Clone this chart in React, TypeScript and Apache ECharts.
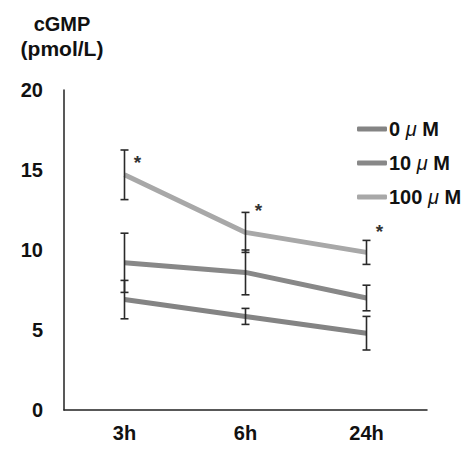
import React, { useEffect, useRef } from "react";
import * as echarts from "echarts";

const categories = ["3h", "6h", "24h"];
const doses = ["0", "10", "100"];
const seriesNames = doses.map((d) => d + " \u03bc M");
const mean0 = [6.9, 5.85, 4.8];
const err0 = [1.2, 0.5, 1.05];
const mean10 = [9.2, 8.6, 7.0];
const err10 = [1.85, 1.4, 0.8];
const mean100 = [14.7, 11.1, 9.85];
const err100 = [1.55, 1.25, 0.75];
const star100Y = [15.75, 12.75, 11.4];
const yTicks = [0, 5, 10, 15, 20];
const colors = ["#848484", "#888888", "#a8a8a8"];

const FONT = "'Liberation Sans', Arial, sans-serif";

function errData(mean: number[], err: number[], starY?: number[]) {
  return mean.map((m, i) => [i, m - err[i], m + err[i], starY ? starY[i] : -1]);
}

function renderErr(params: any, api: any) {
  const idx = api.value(0);
  const lo = api.coord([idx, api.value(1)]);
  const hi = api.coord([idx, api.value(2)]);
  const cap = 4;
  const st = { stroke: "#2a2a2a", lineWidth: 1.6 };
  const children: any[] = [
    { type: "line", shape: { x1: hi[0], y1: hi[1], x2: lo[0], y2: lo[1] }, style: st },
    { type: "line", shape: { x1: hi[0] - cap, y1: hi[1], x2: hi[0] + cap, y2: hi[1] }, style: st },
    { type: "line", shape: { x1: lo[0] - cap, y1: lo[1], x2: lo[0] + cap, y2: lo[1] }, style: st },
  ];
  const sy = api.value(3);
  if (sy >= 0) {
    const sp = api.coord([idx, sy]);
    children.push({
      type: "text",
      x: sp[0] + 13,
      y: sp[1] + 4,
      style: { text: "*", fontSize: 19, fontWeight: "bold", fill: "#333", align: "center", verticalAlign: "middle", fontFamily: FONT },
    });
  }
  return { type: "group", children };
}

export default function App() {
  const ref = useRef<HTMLDivElement>(null);
  useEffect(() => {
    if (!ref.current) return;
    const chart = echarts.init(ref.current, null, { renderer: "svg" });
    const means = [mean0, mean10, mean100];
    const errs = [err0, err10, err100];
    const lineSeries = means.map((m, i) => ({
      name: seriesNames[i],
      type: "line",
      data: m,
      showSymbol: false,
      symbol: "none",
      lineStyle: { color: colors[i], width: 5 },
      itemStyle: { color: colors[i] },
      z: 2,
    }));
    const errSeries = means.map((m, i) => ({
      type: "custom",
      data: errData(m, errs[i], i === 2 ? star100Y : undefined),
      renderItem: renderErr,
      z: 3,
      silent: true,
    }));
    const txt = { fontWeight: "bold", fill: "#111", fontFamily: FONT, fontSize: 20, align: "center", verticalAlign: "middle" };
    chart.setOption({
      animation: false,
      textStyle: { fontFamily: FONT },
      grid: { left: 64, right: 48, top: 90, bottom: 48 },
      graphic: [
        { type: "text", x: 62, y: 24, style: { ...txt, text: "cGMP" } },
        { type: "text", x: 62, y: 48, style: { ...txt, text: "(pmol/L)", fontSize: 21 } },
      ],
      legend: {
        orient: "vertical",
        left: 357,
        top: 119,
        padding: 0,
        itemGap: 14,
        itemWidth: 30,
        itemHeight: 5,
        icon: "roundRect",
        data: seriesNames,
        formatter: (name: string) => {
          const parts = name.split("\u03bc");
          return "{n|" + parts[0] + "}{i|\u03bc}{n|" + parts[1] + "}";
        },
        textStyle: {
          fontSize: 20,
          lineHeight: 20,
          fontWeight: "bold",
          color: "#111",
          fontFamily: FONT,
          padding: [0, 0, 0, -3],
          rich: {
            n: { fontSize: 20, lineHeight: 20, fontWeight: "bold", color: "#111", fontFamily: FONT },
            i: { fontSize: 20, lineHeight: 20, fontStyle: "italic", fontWeight: "normal", color: "#111", fontFamily: FONT },
          },
        },
      },
      xAxis: {
        type: "category",
        data: categories,
        boundaryGap: true,
        axisLine: { lineStyle: { color: "#222", width: 1.5 } },
        axisTick: { show: false },
        axisLabel: { fontSize: 20, fontWeight: "bold", color: "#111", margin: 13, fontFamily: FONT },
      },
      yAxis: {
        type: "value",
        min: yTicks[0],
        max: yTicks[yTicks.length - 1],
        interval: 5,
        splitLine: { show: false },
        axisLine: { show: true, lineStyle: { color: "#222", width: 1.5 } },
        axisTick: { show: false },
        axisLabel: { fontSize: 20, fontWeight: "bold", color: "#111", margin: 21, fontFamily: FONT },
      },
      series: [...lineSeries, ...errSeries],
    });
    return () => chart.dispose();
  }, []);
  return <div ref={ref} style={{ width: 475, height: 458, margin: -8 }} />;
}
